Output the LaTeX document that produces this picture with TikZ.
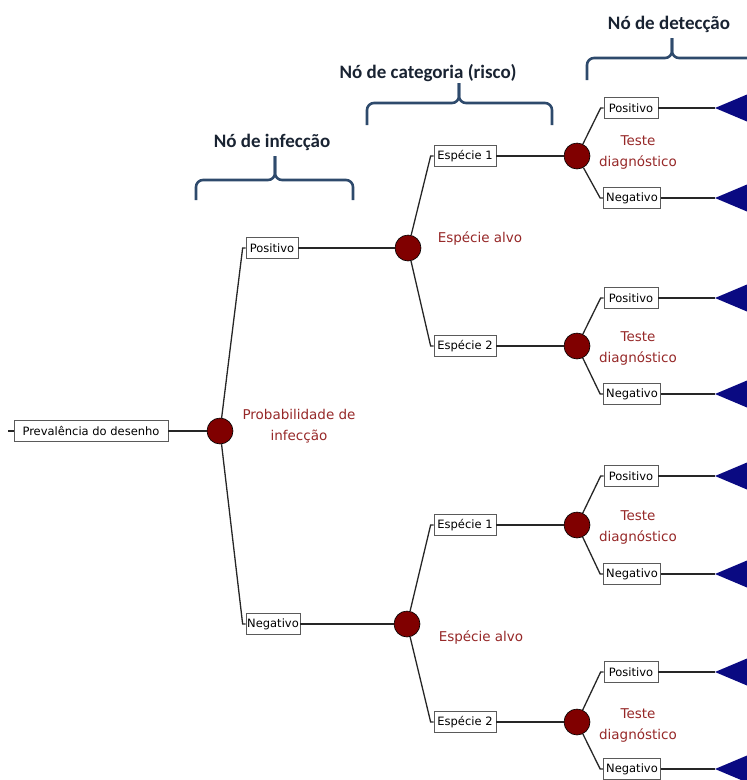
\documentclass[tikz,border=0pt]{standalone}
\usepackage{fontspec}
\setmainfont{DejaVu Sans}
\newfontfamily\hdfont{Carlito}
\definecolor{nodered}{RGB}{128,0,0}
\definecolor{lblred}{RGB}{150,40,40}
\definecolor{trinavy}{RGB}{10,10,130}
\definecolor{bracecol}{RGB}{46,74,108}
\definecolor{hdcol}{RGB}{25,35,50}
\definecolor{boxcol}{RGB}{90,90,90}
\begin{document}
\begin{tikzpicture}[x=1pt,y=-1pt,
  box/.style={draw=boxcol,line width=0.7pt,fill=white,minimum height=21pt,inner sep=1pt,font=\fontsize{11.5}{13}\selectfont},
  chance/.style={circle,draw=black,line width=0.6pt,fill=nodered,minimum size=26pt,inner sep=0pt},
  redlbl/.style={text=lblred,align=center,inner sep=0pt,font=\fontsize{13.5}{21}\selectfont},
  hdr/.style={text=hdcol,inner sep=0pt,font=\hdfont\bfseries\fontsize{19}{21}\selectfont},
  brace/.style={draw=bracecol,line width=2.6pt,rounded corners=7pt},
  conn/.style={draw=black!85,line width=1.3pt},
  tri/.style={fill=trinavy}]
\useasboundingbox (0,0) rectangle (747,780);

% headers and braces
\node[hdr] (h1) at (272,142) {Nó de infecção};
\node[hdr] (h2) at (428,73) {Nó de categoria (risco)};
\node[hdr] (h3) at (669,24) {Nó de detecção};
\draw[brace] (196,200) -- (196,180) -- (275,180) -- (275,156);
\draw[brace] (275,156) -- (275,180) -- (353,180) -- (353,200);
\draw[brace] (367,125) -- (367,103) -- (459,103) -- (459,83);
\draw[brace] (459,83) -- (459,103) -- (552,103) -- (552,125);
\draw[brace] (587,80) -- (587,58) -- (672,58) -- (672,38);
\draw[brace] (672,38) -- (672,58) -- (747,58);

% root
\coordinate (rt) at (8,431);
\node[box,minimum width=154pt] (root) at (91,431) {Prevalência do desenho};
\node[chance] (c0) at (220,431) {};
\node[redlbl] (l0) at (299,426) {Probabilidade de\\infecção};
\draw[conn] (rt) -- (root);
\draw[conn] (root) -- (c0);

% infection branches
\node[box,minimum width=52pt] (ip) at (272,248) {Positivo};
\node[box,minimum width=54pt] (in) at (273,624) {Negativo};
\draw[conn] (c0) -- ([xshift=-3pt]ip.west) -- (ip.west);
\draw[conn] (c0) -- ([xshift=-3pt]in.west) -- (in.west);

\node[chance] (cp) at (408,248) {};
\node[chance] (cn) at (407,624) {};
\draw[conn] (ip) -- (cp);
\draw[conn] (in) -- (cn);
\node[redlbl] (lp) at (480,238) {Espécie alvo};
\node[redlbl] (ln) at (481,637) {Espécie alvo};

% category branches
\node[box,minimum width=62pt] (e1) at (465,156) {Espécie 1};
\node[box,minimum width=62pt] (e2) at (465,346) {Espécie 2};
\node[box,minimum width=62pt] (e3) at (465,525) {Espécie 1};
\node[box,minimum width=62pt] (e4) at (465,722) {Espécie 2};
\draw[conn] (cp) -- ([xshift=-3pt]e1.west) -- (e1.west);
\draw[conn] (cp) -- ([xshift=-3pt]e2.west) -- (e2.west);
\draw[conn] (cn) -- ([xshift=-3pt]e3.west) -- (e3.west);
\draw[conn] (cn) -- ([xshift=-3pt]e4.west) -- (e4.west);

% detection nodes
\foreach \i/\cy/\py/\ny/\ly in {1/156/108/198/152, 2/346/298/394/348, 3/525/476/574/527, 4/722/672/769/725} {
  \node[chance] (d\i) at (577,\cy) {};
  \draw[conn] (e\i) -- (d\i);
  \node[box,minimum width=54pt] (dp\i) at (631,\py) {Positivo};
  \node[box,minimum width=57pt] (dn\i) at (632,\ny) {Negativo};
  \node[redlbl] (dl\i) at (638,\ly) {Teste\\diagnóstico};
  \draw[conn] (d\i) -- ([xshift=-3pt]dp\i.west) -- (dp\i.west);
  \draw[conn] (d\i) -- ([xshift=-3pt]dn\i.west) -- (dn\i.west);
  \coordinate (tp\i) at (715,\py);
  \coordinate (tn\i) at (715,\ny);
  \fill[tri] (tp\i) -- ++(32,-13.5) -- ++(0,27) -- cycle;
  \fill[tri] (tn\i) -- ++(32,-13.5) -- ++(0,27) -- cycle;
  \draw[conn] (dp\i) -- (tp\i);
  \draw[conn] (dn\i) -- (tn\i);
}
\end{tikzpicture}
\end{document}
